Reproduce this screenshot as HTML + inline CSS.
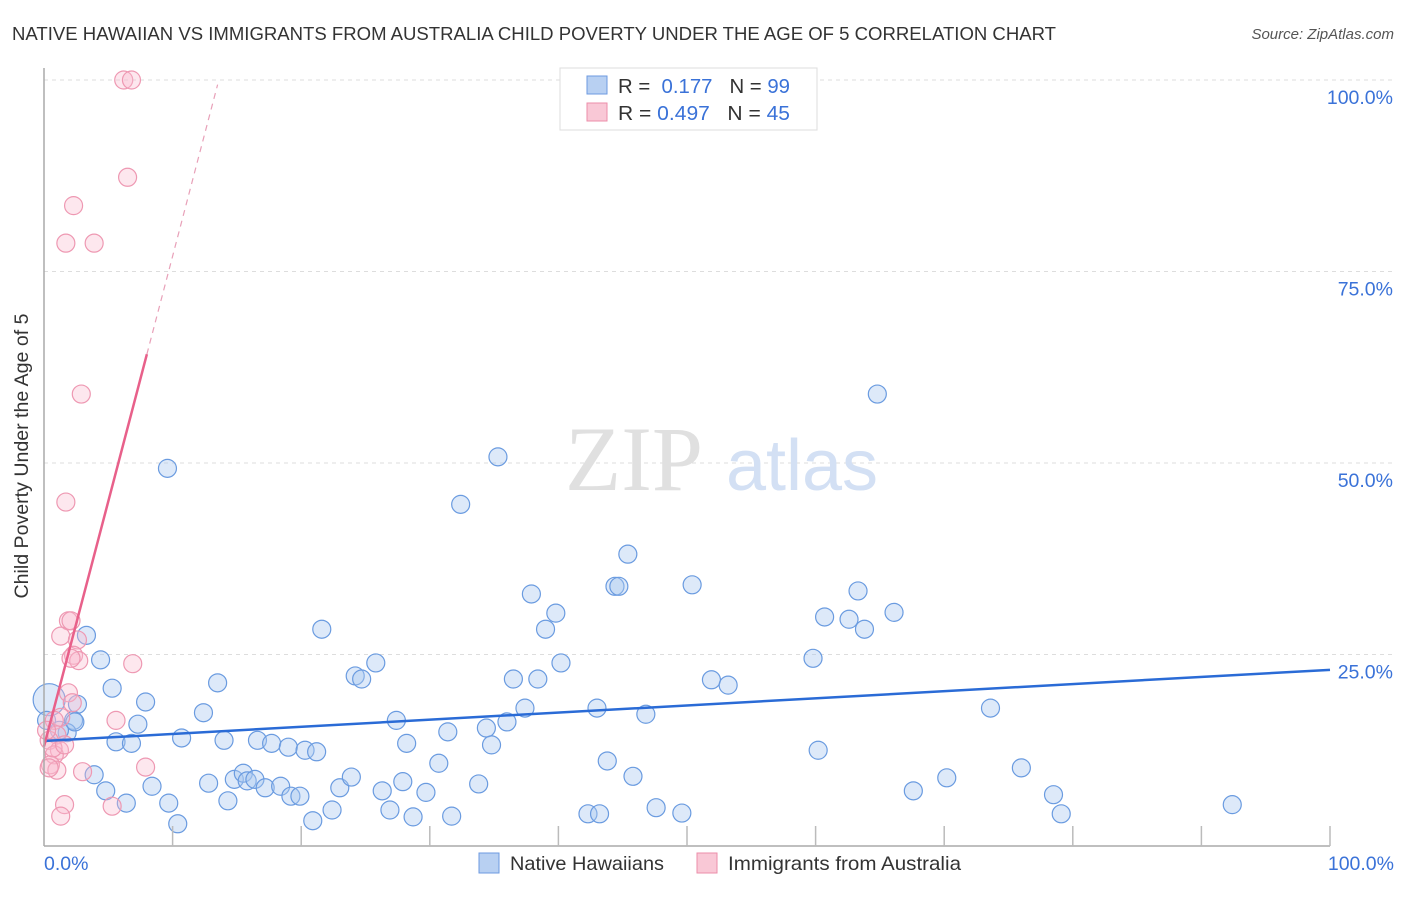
<!DOCTYPE html>
<html><head><meta charset="utf-8"><style>
body{margin:0;background:#fff;font-family:"Liberation Sans",sans-serif;}
svg text{font-family:"Liberation Sans",sans-serif;}
</style></head><body>
<svg id="c" width="1406" height="892" xmlns="http://www.w3.org/2000/svg">
<text x="12" y="40" font-size="18.5" fill="#333" textLength="1044" lengthAdjust="spacingAndGlyphs">NATIVE HAWAIIAN VS IMMIGRANTS FROM AUSTRALIA CHILD POVERTY UNDER THE AGE OF 5 CORRELATION CHART</text>
<text x="1394" y="39" font-size="15" fill="#555" text-anchor="end" font-style="italic">Source: ZipAtlas.com</text>
<g id="grid"></g>
<g id="ticks"></g>
<text x="634" y="490" font-size="92" fill="#e0e0e0" font-family="Liberation Serif" text-anchor="middle" style="font-family:'Liberation Serif',serif">ZIP</text>
<text x="802" y="490" font-size="72" fill="#d3e0f4" text-anchor="middle">atlas</text>
<g id="pts"></g>
<g id="lines"></g>
<line x1="44" y1="68" x2="44" y2="846" stroke="#aaa" stroke-width="1.5"/>
<line x1="44" y1="846" x2="1330" y2="846" stroke="#aaa" stroke-width="1.5"/>
<g id="xt"></g>
<text x="28" y="456" font-size="19" fill="#333" text-anchor="middle" textLength="285" lengthAdjust="spacingAndGlyphs" transform="rotate(-90 28 456)">Child Poverty Under the Age of 5</text>
<text x="44" y="870" font-size="19.5" fill="#3a72d8">0.0%</text>
<text x="1394" y="870" font-size="19.5" fill="#3a72d8" text-anchor="end">100.0%</text>
<g>
<rect x="560" y="68" width="257" height="62" fill="#fff" stroke="#ddd"/>
<rect x="587" y="76" width="20" height="18" fill="#b8d0f2" stroke="#6d9ae0"/>
<rect x="587" y="103" width="20" height="18" fill="#f9c8d6" stroke="#ec8eaa"/>
<text x="618" y="93" font-size="20" fill="#333" textLength="172" lengthAdjust="spacingAndGlyphs">R = <tspan fill="#3a72d8">&#160;0.177</tspan>&#160;&#160;&#160;N = <tspan fill="#3a72d8">99</tspan></text>
<text x="618" y="120" font-size="20" fill="#333" textLength="172" lengthAdjust="spacingAndGlyphs">R = <tspan fill="#3a72d8">0.497</tspan>&#160;&#160;&#160;N = <tspan fill="#3a72d8">45</tspan></text>
</g>
<g>
<rect x="479" y="853" width="20" height="20" fill="#b8d0f2" stroke="#6d9ae0"/>
<text x="510" y="870" font-size="19.5" fill="#333" textLength="154" lengthAdjust="spacingAndGlyphs">Native Hawaiians</text>
<rect x="697" y="853" width="20" height="20" fill="#f9c8d6" stroke="#ec8eaa"/>
<text x="728" y="870" font-size="19.5" fill="#333" textLength="233" lengthAdjust="spacingAndGlyphs">Immigrants from Australia</text>
</g>
</svg>
<script>
const yTicks=[25,50,75,100];
const yTickLabels=["25.0%","50.0%","75.0%","100.0%"];
const xTicks=[10,20,30,40,50,60,70,80,90,100];
const blueX=[9.6,35.3,32.4,64.8,45.4,44.4,44.7,50.4,37.9,39.8,39.0,21.6,60.7,62.6,63.3,63.8,66.1,3.3,4.4,25.8,24.2,24.7,40.2,59.8,36.5,38.4,51.9,53.2,13.5,5.3,2.6,7.9,12.4,37.4,43.0,46.8,73.6,2.3,7.3,27.4,36.0,34.4,31.4,1.8,5.6,6.8,10.7,14.0,16.6,17.7,19.0,20.3,21.2,28.2,34.8,60.2,3.9,4.8,8.4,6.4,9.7,10.4,12.8,14.3,14.8,15.5,15.8,16.4,17.2,18.4,19.2,19.9,20.9,22.4,23.0,23.9,26.3,26.9,27.9,28.7,29.7,30.7,31.7,33.8,42.3,43.2,43.8,45.8,47.6,49.6,67.6,70.2,76.0,78.5,79.1,92.4,0.4,0.2,1.2,2.4];
const blueY=[49.3,50.8,44.6,59.0,38.1,33.9,33.9,34.1,32.9,30.4,28.3,28.3,29.9,29.6,33.3,28.3,30.5,27.5,24.3,23.9,22.2,21.8,23.9,24.5,21.8,21.8,21.7,21.0,21.3,20.6,18.5,18.8,17.4,18.0,18.0,17.2,18.0,16.4,15.9,16.4,16.2,15.4,14.9,14.8,13.6,13.4,14.1,13.8,13.8,13.4,12.9,12.5,12.3,13.4,13.2,12.5,9.3,7.2,7.8,5.6,5.6,2.9,8.2,5.9,8.7,9.5,8.5,8.7,7.6,7.8,6.5,6.5,3.3,4.7,7.6,9.0,7.2,4.7,8.4,3.8,7.0,10.8,3.9,8.1,4.2,4.2,11.1,9.1,5.0,4.3,7.2,8.9,10.2,6.7,4.2,5.4,19.1,16.4,15.1,16.2];
const pinkX=[6.2,6.8,6.5,2.3,1.7,3.9,2.9,1.7,1.9,2.1,1.3,2.6,2.3,2.7,2.1,6.9,1.9,2.2,1.3,0.8,1.0,0.4,1.2,0.8,0.5,1.0,0.4,3.0,7.9,5.6,1.6,1.3,5.3,0.2,0.7,1.6];
const pinkY=[100,100,87.3,83.6,78.7,78.7,59.0,44.9,29.4,29.4,27.4,26.9,24.9,24.2,24.5,23.8,20.0,18.7,16.8,16.4,14.5,13.8,12.5,11.9,10.6,9.9,10.2,9.7,10.3,16.4,5.4,3.9,5.2,15.1,12.8,13.2];
const blueLine=[13.7,23.0];
const pinkLine=[13.0,6.4];
const X=v=>44+v*12.86, Y=v=>846-v*7.66;
const NS="http://www.w3.org/2000/svg";
function mk(p,t,a){const e=document.createElementNS(NS,t);for(const k in a)e.setAttribute(k,a[k]);document.getElementById(p).appendChild(e);return e;}
yTicks.forEach((t,i)=>{
 const l=mk('grid','line',{x1:44,x2:1394,y1:Y(t),y2:Y(t),stroke:'#ddd','stroke-dasharray':'4,4'});
 
 
 const tx=mk('ticks','text',{x:1393,y:Y(t)+24,'font-size':19.5,fill:'#3a72d8','text-anchor':'end'});
 tx.textContent=yTickLabels[i];
 
 
});
xTicks.forEach(t=>{
 const l=mk('xt','line',{x1:X(t),x2:X(t),y1:826,y2:846,stroke:'#bbb','stroke-width':1.5});
 
 
});
blueX.forEach((x,i)=>{
 const r=(i==96)?16:9;
 const c=mk('pts','circle',{cx:X(x),cy:Y(blueY[i]),r:r,fill:'rgba(170,200,240,0.4)',stroke:'#6a9be0','stroke-width':1.2});
 
 
});
pinkX.forEach((x,i)=>{
 const c=mk('pts','circle',{cx:X(x),cy:Y(pinkY[i]),r:9,fill:'rgba(248,185,205,0.35)',stroke:'#ee98b2','stroke-width':1.2});
 
 
});
const bl=mk('lines','line',{x1:X(0),y1:Y(blueLine[0]),x2:X(100),y2:Y(blueLine[1]),stroke:'#2a6bd6','stroke-width':2.5});


const pe=8.0, pd=13.5;
const pl=mk('lines','line',{x1:X(0),y1:Y(pinkLine[0]),x2:X(pe),y2:Y(pinkLine[0]+pinkLine[1]*pe),stroke:'#e8608a','stroke-width':2.5});


const pdl=mk('lines','line',{x1:X(pe),y1:Y(pinkLine[0]+pinkLine[1]*pe),x2:X(pd),y2:Y(pinkLine[0]+pinkLine[1]*pd),stroke:'#e8a0b8','stroke-width':1.2,'stroke-dasharray':'6,5'});


</script>
</body></html>
